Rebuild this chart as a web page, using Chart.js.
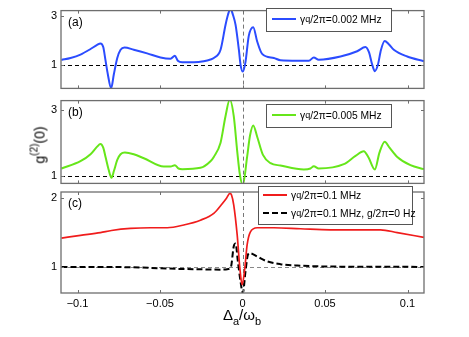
<!DOCTYPE html>
<html>
<head>
<meta charset="utf-8">
<script src="https://cdn.jsdelivr.net/npm/chart.js@4/dist/chart.umd.min.js"></script>
<style>
  body { margin: 0; background: #fff; font-family: "Liberation Sans", Arial, sans-serif; }
  #wrap { position: relative; width: 469px; height: 337px; overflow: hidden; }
  canvas { position: absolute; left: 0; }
  .legend { position: absolute; background: #fff; border: 1px solid #555; font-size: 10.3px; color: #000; box-sizing: border-box; }
  .row { position: absolute; left: 0; display: flex; align-items: center; white-space: nowrap; height: 14px; }
  .sw { display: inline-block; width: 24px; margin: 0 4px 0 5px; border-top: 2px solid; }
  .legend sub { font-size: 9px; vertical-align: -4px; }
  #ylab { position: absolute; left: 38px; top: 145px; transform: translate(-50%, -50%) rotate(-90deg); font-size: 14px; font-weight: normal; white-space: nowrap; }
  #xlab { position: absolute; left: 242px; top: 316px; transform: translate(-50%, -50%); font-size: 15px; white-space: nowrap; }
  #xlab sub { font-size: 11px; vertical-align: -5px; }
  #ylab sup { font-size: 10px; vertical-align: 7px; }
</style>
</head>
<body>
<div id="wrap">
  <canvas id="pa" width="469" height="99" style="top:0"></canvas>
  <canvas id="pb" width="469" height="104" style="top:90px"></canvas>
  <canvas id="pc" width="469" height="157" style="top:180px"></canvas>

  <div class="legend" style="left:266px;top:8px;width:126px;height:24px">
    <div class="row" style="top:3px"><span class="sw" style="border-color:#2b4cff"></span>γ<sub>q</sub>/2π=0.002 MHz</div>
  </div>
  <div class="legend" style="left:266px;top:104px;width:126px;height:24px">
    <div class="row" style="top:3px"><span class="sw" style="border-color:#66e61a"></span>γ<sub>q</sub>/2π=0.005 MHz</div>
  </div>
  <div class="legend" style="left:258px;top:186px;width:155px;height:39px">
    <div class="row" style="top:1px"><span class="sw" style="border-color:#f01c1c;margin-left:4px"></span>γ<sub>q</sub>/2π=0.1 MHz</div>
    <div class="row" style="top:19px"><span class="sw" style="border-top:2px dashed #000;margin-left:4px"></span>γ<sub>q</sub>/2π=0.1 MHz, g/2π=0 Hz</div>
  </div>

  <div id="ylab">g<sup>(2)</sup>(0)</div>
  <div id="xlab">Δ<sub>a</sub>/ω<sub>b</sub></div>
</div>
<script>
// x positions (Δa/ωb) and g2(0) values
const xA = [-0.1097, -0.1042, -0.0982, -0.0921, -0.0881, -0.0861, -0.0844, -0.0830, -0.0816, -0.0796, -0.0780,
  -0.0759, -0.0739, -0.0715, -0.0659, -0.0578, -0.0497, -0.0436, -0.0410, -0.0392, -0.0365, -0.0295, -0.0235,
  -0.0194, -0.0174, -0.0133, -0.0103, -0.0088, -0.0073, -0.0058, -0.0042, -0.0022, -0.0012, 0.0002, 0.0018,
  0.0038, 0.0065, 0.0089, 0.0119, 0.0190, 0.0230, 0.0332, 0.0402, 0.0432, 0.0462, 0.0594, 0.0695, 0.0745,
  0.0767, 0.0786, 0.0802, 0.0821, 0.0839, 0.0862, 0.0885, 0.0917, 0.0998, 0.1099];
const gA = [1.19, 1.27, 1.41, 1.64, 1.81, 1.87, 1.72, 1.16, 0.59, 0.03, 0.59,
  1.27, 1.61, 1.70, 1.61, 1.46, 1.29, 1.24, 1.36, 1.16, 1.10, 1.10, 1.14,
  1.21, 1.27, 1.61, 2.63, 3.05, 3.3, 3.05, 2.63, 1.61, 1.0, 0.71, 1.1,
  2.18, 2.54, 1.95, 1.44, 1.27, 1.18, 1.16, 1.16, 1.29, 1.20, 1.33, 1.55, 1.72,
  1.5, 1.0, 0.73, 1.0, 1.6, 1.97, 1.85, 1.61, 1.33, 1.14];

const xB = [-0.1097, -0.0982, -0.0921, -0.0881, -0.0861, -0.0844, -0.0830, -0.0812, -0.0794, -0.0779, -0.0759,
  -0.0739, -0.0713, -0.0659, -0.0598, -0.0477, -0.0436, -0.0410, -0.0388, -0.0365, -0.0255, -0.0194, -0.0174,
  -0.0133, -0.0103, -0.0077, -0.0053, -0.0032, -0.0016, 0.0002, 0.0028, 0.0045, 0.0065, 0.0089, 0.0124,
  0.0170, 0.0230, 0.0372, 0.0412, 0.0432, 0.0462, 0.0614, 0.0685, 0.0735, 0.0764, 0.0802, 0.0830, 0.0862,
  0.0891, 0.0938, 0.1018, 0.1099];
const gB = [1.22, 1.44, 1.65, 1.88, 1.96, 1.85, 1.57, 1.2, 0.94, 1.15, 1.48,
  1.65, 1.70, 1.65, 1.53, 1.28, 1.28, 1.32, 1.22, 1.2, 1.24, 1.44, 1.57,
  2.0, 2.8, 3.3, 2.8, 1.74, 1.04, 0.72, 1.57, 2.2, 2.52, 2.18, 1.63,
  1.38, 1.31, 1.19, 1.22, 1.29, 1.22, 1.35, 1.6, 1.74, 1.55, 1.19, 1.7, 2.03,
  1.85, 1.57, 1.32, 1.2];

const xC = [-0.1097, -0.0982, -0.0861, -0.0794, -0.0679, -0.0558, -0.0456, -0.0356, -0.0255, -0.0174, -0.0123,
  -0.0097, -0.0076, -0.0067, -0.0053, -0.0032, -0.0016, -0.0002, 0.0014, 0.0028, 0.0048, 0.0089, 0.0190,
  0.0352, 0.0533, 0.0836, 0.0938, 0.1099];
const gC = [1.42, 1.46, 1.50, 1.53, 1.56, 1.57, 1.57, 1.61, 1.68, 1.78, 1.92,
  2.0, 2.07, 2.05, 1.9, 1.46, 0.98, 0.74, 0.98, 1.32, 1.51, 1.57, 1.57,
  1.555, 1.54, 1.54, 1.50, 1.43];

const xD = [-0.1097, -0.0679, -0.0497, -0.0376, -0.0255, -0.0121, -0.0085, -0.0070, -0.0053, -0.0042, -0.0028,
  -0.0012, 0.0002, 0.0018, 0.0032, 0.0044, 0.0089, 0.0150, 0.0230, 0.0332, 0.0533, 0.1099];
const gD = [1.0, 0.995, 0.98, 0.97, 0.965, 0.96, 0.97, 1.0, 1.3, 1.34, 1.08,
  0.79, 0.62, 0.93, 1.17, 1.2, 1.15, 1.08, 1.04, 1.02, 1.005, 1.0];

const xTicks = [-0.1, -0.05, 0, 0.05, 0.1];

const FONT = { family: '"Liberation Sans", Arial, sans-serif', size: 11 };

function pts(xs, ys) {
    return xs.map((x, i) => ({ x, y: ys[i] }));
}

// Box, inward ticks on all four sides, guide lines and panel letter.
function framePlugin(label, hColor) {
    return {
        id: 'frame',
        beforeDatasetsDraw(chart) {
            const { ctx, chartArea: a, scales } = chart;
            ctx.save();
            ctx.lineWidth = 1;
            ctx.setLineDash([4, 3]);
            ctx.strokeStyle = hColor;
            const y1 = Math.round(scales.y.getPixelForValue(1)) + 0.5;
            ctx.beginPath(); ctx.moveTo(a.left, y1); ctx.lineTo(a.right, y1); ctx.stroke();
            ctx.strokeStyle = '#777';
            const x0 = Math.round(scales.x.getPixelForValue(0)) + 0.5;
            ctx.beginPath(); ctx.moveTo(x0, a.top); ctx.lineTo(x0, a.bottom); ctx.stroke();
            ctx.restore();
        },
        afterDatasetsDraw(chart) {
            const { ctx, chartArea: a, scales } = chart;
            ctx.save();
            ctx.strokeStyle = '#6e6e6e';
            ctx.lineWidth = 1.3;
            ctx.strokeRect(a.left, a.top, a.right - a.left, a.bottom - a.top);
            ctx.lineWidth = 1;
            ctx.beginPath();
            xTicks.forEach((v) => {
                const px = Math.round(scales.x.getPixelForValue(v)) + 0.5;
                ctx.moveTo(px, a.bottom); ctx.lineTo(px, a.bottom - 3);
                ctx.moveTo(px, a.top); ctx.lineTo(px, a.top + 3);
            });
            scales.y.ticks.forEach((t) => {
                const py = Math.round(scales.y.getPixelForValue(t.value)) + 0.5;
                ctx.moveTo(a.left, py); ctx.lineTo(a.left + 3, py);
                ctx.moveTo(a.right, py); ctx.lineTo(a.right - 3, py);
            });
            ctx.stroke();
            ctx.fillStyle = '#000';
            ctx.font = '12px "Liberation Sans", Arial, sans-serif';
            ctx.textBaseline = 'middle';
            ctx.fillText(label, a.left + 7, a.top + 12);
            ctx.restore();
        },
    };
}

function panel(id, opts) {
    const { datasets, yMin, yMax, yTicks, label, hColor, showX, pad } = opts;
    new Chart(document.getElementById(id), {
        type: 'line',
        data: { datasets },
        options: {
            responsive: false,
            animation: false,
            devicePixelRatio: 1,
            layout: { padding: pad },
            plugins: { legend: { display: false }, tooltip: { enabled: false } },
            elements: { point: { radius: 0 }, line: { cubicInterpolationMode: 'monotone' } },
            scales: {
                x: {
                    type: 'linear',
                    min: -0.11,
                    max: 0.11,
                    display: showX,
                    grid: { display: false, drawTicks: false },
                    border: { display: false },
                    afterBuildTicks: (s) => { s.ticks = xTicks.map((v) => ({ value: v })); },
                    afterFit: (s) => { s.height = showX ? 44 : 0; },
                    ticks: {
                        padding: 4,
                        color: '#000',
                        font: FONT,
                        maxRotation: 0,
                        autoSkip: false,
                        callback: (v) => (v === 0 ? '0' : (v < 0 ? '\u2212' : '') + Math.abs(v)),
                    },
                },
                y: {
                    min: yMin,
                    max: yMax,
                    grid: { display: false, drawTicks: false },
                    border: { display: false },
                    afterBuildTicks: (s) => { s.ticks = yTicks.map((v) => ({ value: v })); },
                    afterFit: (s) => { s.width = 61; },
                    ticks: { padding: 4, color: '#000', font: FONT },
                },
            },
        },
        plugins: [framePlugin(label, hColor)],
    });
}

panel('pa', {
    datasets: [{ data: pts(xA, gA), borderColor: '#2b4cff', borderWidth: 2 }],
    yMin: 0.02, yMax: 3.22, yTicks: [1, 3], label: '(a)', hColor: '#000', showX: false,
    pad: { top: 2, bottom: 2, left: 0, right: 45 },
});

panel('pb', {
    datasets: [{ data: pts(xB, gB), borderColor: '#66e61a', borderWidth: 2 }],
    yMin: 0.77, yMax: 3.27, yTicks: [1, 3], label: '(b)', hColor: '#000', showX: false,
    pad: { top: 7, bottom: 2, left: 0, right: 45 },
});

panel('pc', {
    datasets: [
        { data: pts(xC, gC), borderColor: '#f01c1c', borderWidth: 1.7 },
        { data: pts(xD, gD), borderColor: '#000', borderWidth: 2, borderDash: [6, 3] },
    ],
    yMin: 0.62, yMax: 2.09, yTicks: [1, 2], label: '(c)', hColor: '#888', showX: true,
    pad: { top: 12, bottom: 0, left: 0, right: 45 },
});
</script>
</body>
</html>
